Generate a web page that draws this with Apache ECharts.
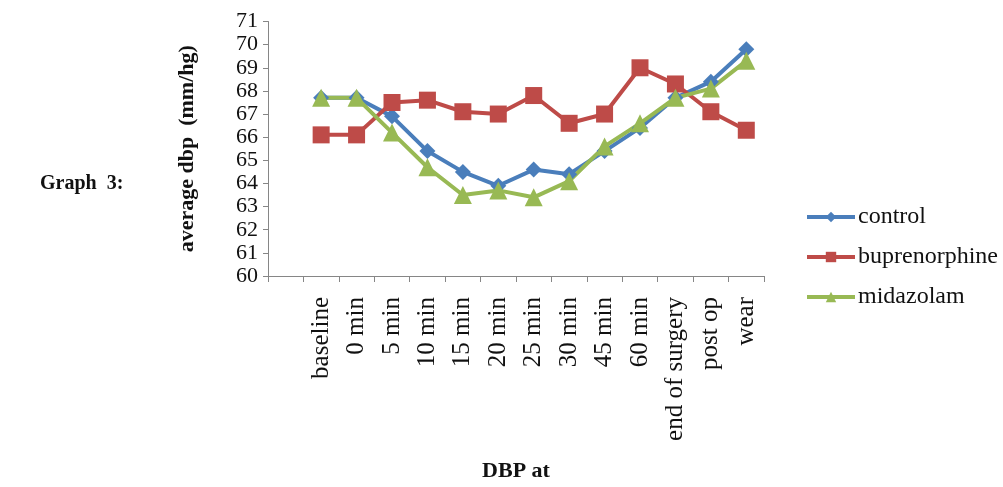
<!DOCTYPE html>
<html><head><meta charset="utf-8">
<script src="https://cdn.jsdelivr.net/npm/echarts@6/dist/echarts.min.js"></script>
<style>html,body{margin:0;padding:0;background:#fff}#c{width:1003px;height:487px}</style>
</head><body><div id="c"></div>
<script>
const categories = ["", "baseline", "0 min", "5 min", "10 min", "15 min", "20 min", "25 min", "30 min", "45 min", "60 min", "end of surgery", "post op", "wear"];
const control = [null, 67.7, 67.7, 66.9, 65.4, 64.5, 63.9, 64.6, 64.4, 65.4, 66.4, 67.7, 68.4, 69.8];
const buprenorphine = [null, 66.1, 66.1, 67.5, 67.6, 67.1, 67.0, 67.8, 66.6, 67.0, 69.0, 68.3, 67.1, 66.3];
const midazolam = [null, 67.7, 67.7, 66.2, 64.7, 63.5, 63.7, 63.4, 64.1, 65.6, 66.6, 67.7, 68.1, 69.3];
const yTicks = {min: 60, max: 71, interval: 1};

const serif = '"Liberation Serif", "DejaVu Serif", serif';
const chart = echarts.init(document.getElementById('c'), null, {renderer: 'canvas'});
const axisColor = '#868686';
function mk(name, data, color, symbol, size) {
  return {
    name, type: 'line', data, symbol, symbolSize: size,
    showAllSymbol: true, connectNulls: false,
    lineStyle: {width: 4, color}, itemStyle: {color},
    emphasis: {disabled: true}, animation: false
  };
}
chart.setOption({
  animation: false,
  textStyle: {fontFamily: serif},
  grid: {left: 268, top: 21.5, right: 239, bottom: 211, containLabel: false, outerBoundsMode: 'none'},
  xAxis: {
    type: 'category', data: categories, boundaryGap: true,
    axisLine: {lineStyle: {color: axisColor, width: 1}},
    axisTick: {show: true, length: 6, lineStyle: {color: axisColor}, interval: 0},
    axisLabel: {rotate: 90, interval: 0, margin: 21, fontSize: 25, color: '#111', fontFamily: serif},
    name: 'DBP at', nameLocation: 'middle', nameGap: 184,
    nameTextStyle: {fontSize: 22, fontWeight: 'bold', color: '#111', fontFamily: serif},
    splitLine: {show: false}
  },
  yAxis: {
    type: 'value', min: yTicks.min, max: yTicks.max, interval: yTicks.interval,
    axisLine: {show: true, lineStyle: {color: axisColor, width: 1}},
    axisTick: {show: true, length: 5, lineStyle: {color: axisColor}},
    axisLabel: {fontSize: 22, color: '#111', margin: 10, fontFamily: serif},
    splitLine: {show: false},
    name: 'average dbp  (mm/hg)', nameLocation: 'middle', nameGap: 70, nameRotate: 90,
    nameTextStyle: {fontSize: 22, fontWeight: 'bold', color: '#111', fontFamily: serif}
  },
  legend: {
    orient: 'vertical', left: 800, top: 200, itemGap: 16,
    itemWidth: 48, itemHeight: 13,
    lineStyle: {width: 4},
    textStyle: {fontSize: 24, color: '#111', fontFamily: serif, padding: [0,0,0,-2]},
    data: ['control', 'buprenorphine', 'midazolam']
  },
  graphic: [{
    type: 'text', left: 40, top: 174,
    style: {text: 'Graph  3:', fontSize: 20, fontWeight: 'bold', fill: '#111', fontFamily: serif}
  }],
  series: [
    mk('control', control, '#4a7ebb', 'diamond', 16),
    mk('buprenorphine', buprenorphine, '#be4b48', 'rect', 17),
    mk('midazolam', midazolam, '#98b954', 'triangle', 18)
  ]
});
</script></body></html>
